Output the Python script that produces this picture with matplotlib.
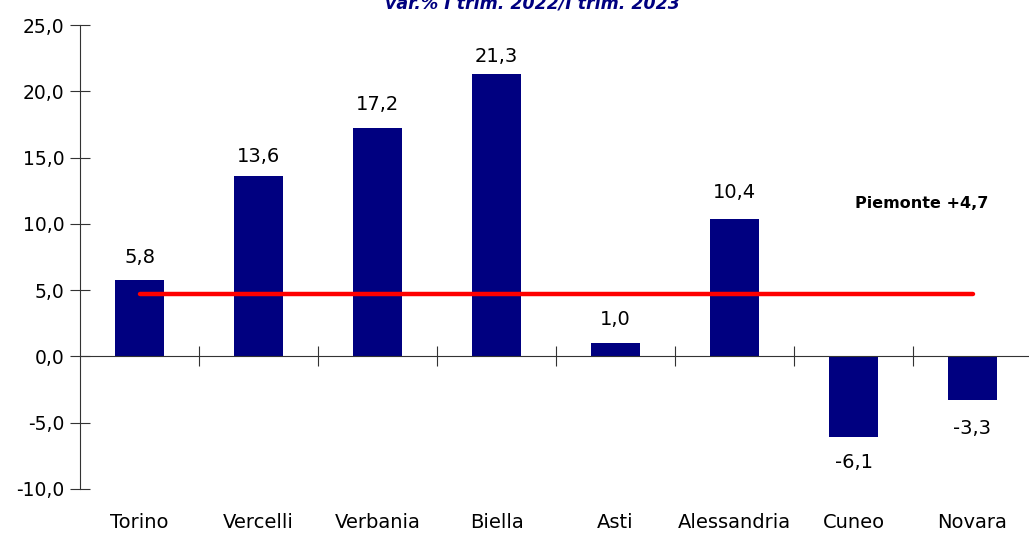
import numpy as np
import matplotlib.pyplot as plt
from matplotlib.transforms import blended_transform_factory

# values
provinces = ['Torino', 'Vercelli', 'Verbania', 'Biella', 'Asti', 'Alessandria', 'Cuneo', 'Novara']
var_pct = [5.8, 13.6, 17.2, 21.3, 1.0, 10.4, -6.1, -3.3]
piemonte = 4.7
title = 'var.% I trim. 2022/I trim. 2023'

# distance of each value label from the end of its bar (axis units)
label_gap = [1.65, 1.45, 1.8, 1.35, 1.75, 2.0, 1.9, 2.1]

navy = '#000080'
plt.rcParams['font.family'] = 'DejaVu Sans'

fig = plt.figure(figsize=(10.29, 5.34), dpi=100)
ax = fig.add_axes([80 / 1029, 45 / 534, 952 / 1029, 464 / 534])

x = np.arange(len(provinces))
ax.bar(x, var_pct, width=0.41, color=navy, zorder=2)

# regional average line
ax.plot([x[0], x[-1]], [piemonte, piemonte], color='#ff0000', lw=3.2,
        solid_capstyle='round', zorder=3)
ax.text(6.01, 11.55, 'Piemonte +4,7', fontsize=11.5, fontweight='bold',
        ha='left', va='center')

# value labels
for xi, v, g in zip(x, var_pct, label_gap):
    lab = f'{v:.1f}'.replace('.', ',')
    ypos = v + g if v >= 0 else v - g
    ax.text(xi, ypos, lab, ha='center', va='center', fontsize=14)

ax.set_xlim(-0.5, 7.5)
ax.set_ylim(-10, 25)
yt = np.arange(-10, 26, 5)
ax.set_yticks(yt)
ax.set_yticklabels([f'{t:.1f}'.replace('.', ',') for t in yt], fontsize=13.5)
ax.tick_params(axis='y', direction='inout', length=14, width=0.8, pad=4,
               color='#333333')

# x axis at zero with ticks between categories
ax.spines['bottom'].set_position(('data', 0))
ax.spines['bottom'].set_color('#333333')
ax.spines['bottom'].set_linewidth(0.8)
ax.set_xticks(x[:-1] + 0.5)
ax.set_xticklabels([])
ax.tick_params(axis='x', direction='inout', length=14, width=0.8, color='#333333')
ax.spines['left'].set_color('#333333')
ax.spines['left'].set_linewidth(0.8)
for s in ['top', 'right']:
    ax.spines[s].set_visible(False)

trans = blended_transform_factory(ax.transData, ax.transAxes)
for xi, name in zip(x, provinces):
    ax.text(xi, -0.073, name, transform=trans, ha='center', va='center',
            fontsize=14)

fig.text(532 / 1029, 1 - 8 / 534, title, ha='center', va='baseline',
         fontsize=12.5, fontweight='bold', fontstyle='italic', color=navy)

fig.savefig('out.png', dpi=100)
